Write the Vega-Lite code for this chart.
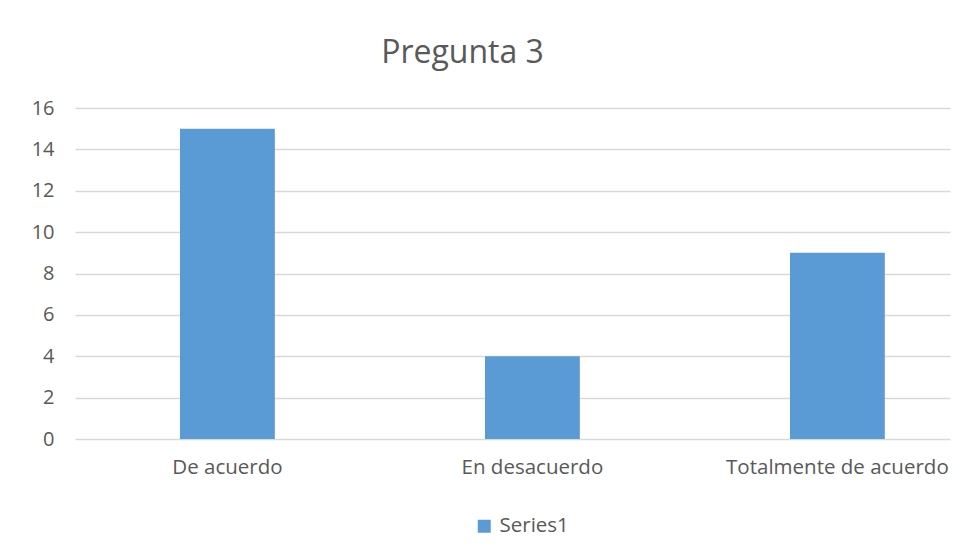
{
  "$schema": "https://vega.github.io/schema/vega-lite/v6.json",
  "autosize": {"type": "none"},
  "width": 875,
  "height": 331,
  "padding": {"left": 75, "top": 108, "right": 16, "bottom": 119},
  "background": "white",
  "title": {
    "text": "Pregunta 3",
    "font": "Open Sans",
    "fontSize": 32,
    "fontWeight": "normal",
    "color": "#595959",
    "anchor": "middle",
    "dx": -50,
    "offset": 28
  },
  "data": {
    "values": [
      {"categoria": "De acuerdo", "valor": 15, "serie": "Series1"},
      {"categoria": "En desacuerdo", "valor": 4, "serie": "Series1"},
      {"categoria": "Totalmente de acuerdo", "valor": 9, "serie": "Series1"}
    ]
  },
  "mark": {"type": "bar", "color": "#5b9bd5"},
  "encoding": {
    "x": {
      "field": "categoria",
      "type": "nominal",
      "sort": null,
      "title": null,
      "scale": {"paddingInner": 0.689, "paddingOuter": 0.279, "align": 0.617},
      "axis": {
        "labelAngle": 0,
        "labelFont": "Open Sans",
        "labelFontSize": 20.5,
        "labelColor": "#595959",
        "labelPadding": 18,
        "labelLimit": 0,
        "labelOverlap": false,
        "ticks": false,
        "domain": false,
        "grid": false
      }
    },
    "y": {
      "field": "valor",
      "type": "quantitative",
      "title": null,
      "scale": {"domain": [0, 16], "nice": false},
      "axis": {
        "values": [0, 2, 4, 6, 8, 10, 12, 14, 16],
        "labelFont": "Open Sans",
        "labelFontSize": 20,
        "labelColor": "#595959",
        "labelPadding": 21,
        "ticks": false,
        "domain": false,
        "grid": true,
        "gridColor": "#d9d9d9",
        "gridWidth": 1.3
      }
    },
    "fill": {
      "field": "serie",
      "type": "nominal",
      "scale": {"range": ["#5b9bd5"]},
      "legend": {
        "title": null,
        "orient": "none",
        "legendX": 399,
        "legendY": 408,
        "symbolType": "square",
        "symbolSize": 169,
        "symbolStrokeWidth": 0,
        "labelFont": "Open Sans",
        "labelFontSize": 20.5,
        "labelColor": "#595959",
        "labelOffset": 5
      }
    }
  },
  "config": {"view": {"stroke": null}}
}
